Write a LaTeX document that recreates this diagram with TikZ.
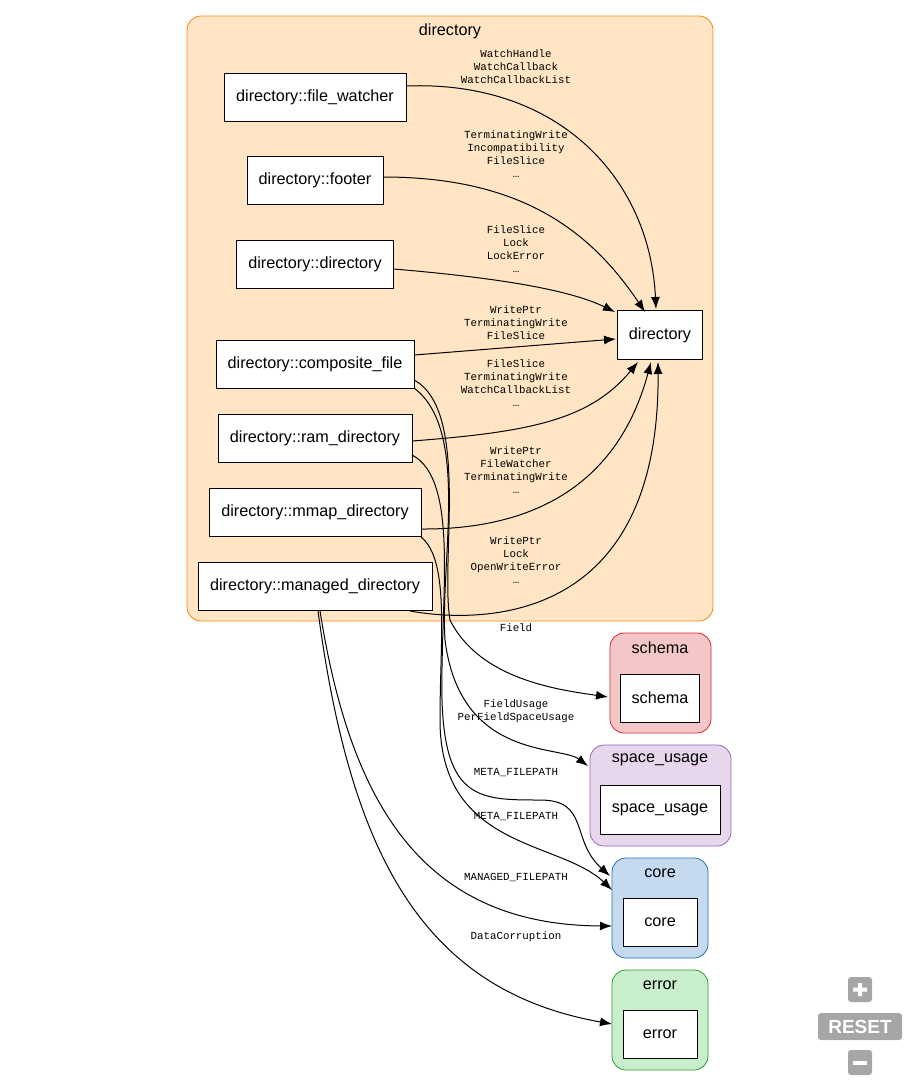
\documentclass[tikz,border=0pt]{standalone}
\usepackage{fontspec}
\setmainfont{Liberation Sans}
\newfontfamily\lblfont{Liberation Mono}
\usetikzlibrary{arrows.meta}
\definecolor{dirfill}{HTML}{FFE5C4}\definecolor{dirline}{HTML}{F58518}
\definecolor{schfill}{HTML}{F4C6C7}\definecolor{schline}{HTML}{D62728}
\definecolor{spfill}{HTML}{E8D6EC}\definecolor{spline}{HTML}{9467BD}
\definecolor{corefill}{HTML}{C5DAEE}\definecolor{coreline}{HTML}{1F77B4}
\definecolor{errfill}{HTML}{C8EECB}\definecolor{errline}{HTML}{2CA02C}
\begin{document}
\begin{tikzpicture}[x=1pt,y=-1pt,
 box/.style={draw=black,fill=white,minimum height=48pt,inner sep=0pt,font=\fontsize{16.2}{18}\selectfont},
 clu/.style={rounded corners=14pt,line width=0.8pt},
 ttl/.style={font=\fontsize{16.2}{18}\selectfont},
 lbl/.style={font=\lblfont\fontsize{10.8}{13}\selectfont,align=center},
 e/.style={-{Latex[length=12pt,width=9pt]},line width=1pt}]
\useasboundingbox (0,0) rectangle (918,1087);
\draw[clu,fill=dirfill,draw=dirline] (187,16) rectangle (713,621);
\node[ttl] (tdir) at (450,31) {directory};
\draw[clu,fill=schfill,draw=schline] (610,633) rectangle (711,733);
\node[ttl] (tsch) at (660,648) {schema};
\draw[clu,fill=spfill,draw=spline] (590,745) rectangle (731,846);
\node[ttl] (tsp) at (660,760) {space\_usage};
\draw[clu,fill=corefill,draw=coreline] (612,858) rectangle (708,958);
\node[ttl] (tcore) at (660,873) {core};
\draw[clu,fill=errfill,draw=errline] (612,970) rectangle (708,1070);
\node[ttl] (terr) at (660,985) {error};

\node[box,minimum width=182pt] (fw) at (315,97) {directory::file\_watcher};
\node[box,minimum width=136pt] (ft) at (315,180) {directory::footer};
\node[box,minimum width=157pt] (dd) at (315,264) {directory::directory};
\node[box,minimum width=198pt] (cf) at (315,364) {directory::composite\_file};
\node[box,minimum width=194pt] (rd) at (315,438) {directory::ram\_directory};
\node[box,minimum width=212pt] (md) at (315,512) {directory::mmap\_directory};
\node[box,minimum width=234pt] (mg) at (315,586) {directory::managed\_directory};
\node[box,minimum width=85pt,minimum height=49pt] (dir) at (660,335) {directory};
\node[box,minimum width=79pt] (sch) at (660,698) {schema};
\node[box,minimum width=120pt,minimum height=49pt] (sp) at (660,810) {space\_usage};
\node[box,minimum width=74pt] (core) at (660,922) {core};
\node[box,minimum width=74pt] (err) at (660,1034) {error};

\coordinate (d1) at (656,309);\coordinate (d2) at (645,312);\coordinate (d3) at (615,312);
\coordinate (d4) at (616,339);\coordinate (d5) at (638,362);\coordinate (d6) at (651,362);\coordinate (d7) at (658,362);
\draw[e] (fw.east|-0,86) .. controls (560,80) and (650,180) .. (d1);
\draw[e] (ft.east|-0,177) .. controls (520,177) and (590,230) .. (d2);
\draw[e] (dd.east|-0,269) .. controls (500,278) and (570,290) .. (d3);
\draw[e] (cf.east|-0,355) -- (d4);
\draw[e] (rd.east|-0,441) .. controls (530,432) and (590,420) .. (d5);
\draw[e] (md.east|-0,529) .. controls (580,530) and (630,440) .. (d6);
\draw[e] (410,611) .. controls (460,620) and (660,640) .. (d7);
\node[lbl] (l1) at (516,67) {WatchHandle\\WatchCallback\\WatchCallbackList};
\node[lbl] (l2) at (516,154) {TerminatingWrite\\Incompatibility\\FileSlice\\…};
\node[lbl] (l3) at (516,249) {FileSlice\\Lock\\LockError\\…};
\node[lbl] (l4) at (516,323) {WritePtr\\TerminatingWrite\\FileSlice};
\node[lbl] (l5) at (516,383) {FileSlice\\TerminatingWrite\\WatchCallbackList\\…};
\node[lbl] (l6) at (516,470) {WritePtr\\FileWatcher\\TerminatingWrite\\…};
\node[lbl] (l7) at (516,560) {WritePtr\\Lock\\OpenWriteError\\…};

\draw[e] (414,380) .. controls (470,410) and (440,560) .. (450,620) .. controls (480,680) and (560,690) .. (608,697);
\draw[e] (414,388) .. controls (470,430) and (440,560) .. (445,640) .. controls (460,760) and (560,745) .. (588,766);
\draw[e] (412,455) .. controls (460,480) and (440,600) .. (442,700) .. controls (445,800) and (480,800) .. (540,800) .. controls (590,800) and (570,840) .. (610,876);
\draw[e] (421,537) .. controls (450,560) and (440,640) .. (440,720) .. controls (440,850) and (560,840) .. (612,890);
\draw[e] (320,611) .. controls (350,800) and (420,925) .. (612,926);
\draw[e] (318,611) .. controls (350,850) and (420,990) .. (612,1024);
\node[lbl] (l8) at (516,628) {Field};
\node[lbl] (l9) at (516,711) {FieldUsage\\PerFieldSpaceUsage};
\node[lbl] (l10) at (516,773) {META\_FILEPATH};
\node[lbl] (l11) at (516,817) {META\_FILEPATH};
\node[lbl] (l12) at (516,877) {MANAGED\_FILEPATH};
\node[lbl] (l13) at (516,937) {DataCorruption};

\fill[gray!70,rounded corners=3pt] (848,977) rectangle (872,1002);
\fill[white] (858,983) rectangle (862,996) (853,987.5) rectangle (867,991.5);
\fill[gray!70,rounded corners=3pt] (818,1013) rectangle (902,1040);
\node[white,font=\bfseries\fontsize{19}{19}\selectfont] (rs) at (860,1027) {RESET};
\fill[gray!70,rounded corners=3pt] (848,1050) rectangle (872,1075);
\fill[white] (853,1060.5) rectangle (867,1064.5);
\end{tikzpicture}
\end{document}
